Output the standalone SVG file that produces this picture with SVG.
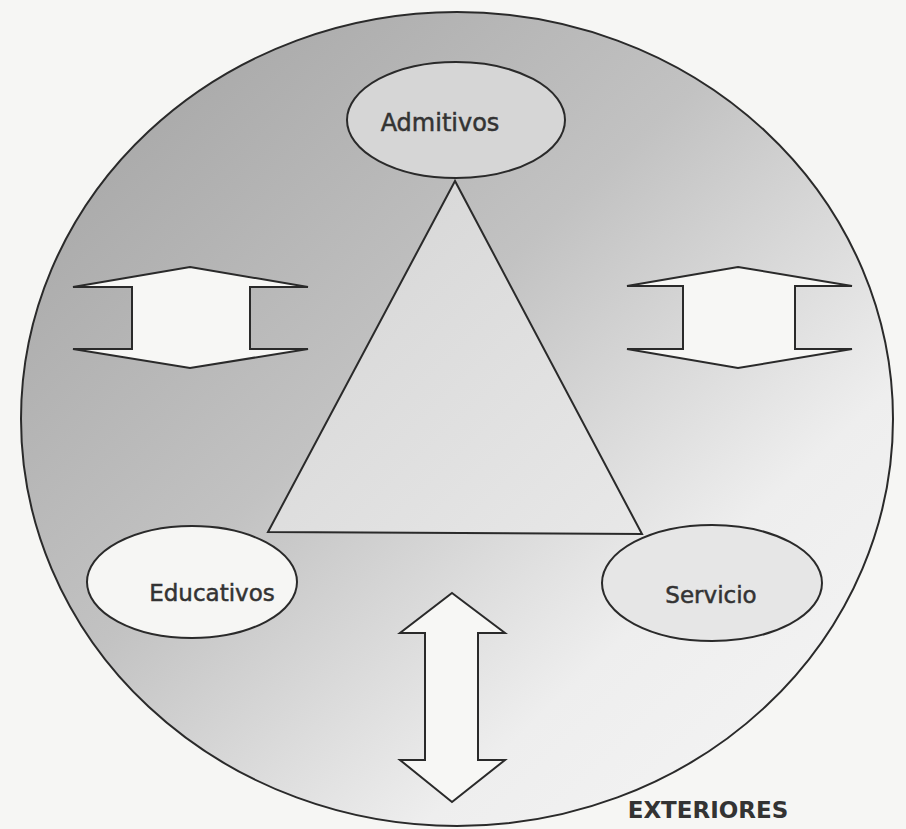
<svg xmlns="http://www.w3.org/2000/svg" width="906" height="829" viewBox="0 0 906 829">
  <defs>
    <linearGradient id="gCircle" x1="0" y1="0.1" x2="0.85" y2="0.95">
      <stop offset="0" stop-color="#a4a4a4"/>
      <stop offset="0.45" stop-color="#c2c2c2"/>
      <stop offset="0.8" stop-color="#eeeeee"/>
      <stop offset="1" stop-color="#f3f3f3"/>
    </linearGradient>
    <linearGradient id="gTri" x1="0" y1="0" x2="1" y2="1">
      <stop offset="0" stop-color="#d4d4d4"/>
      <stop offset="1" stop-color="#e8e8e8"/>
    </linearGradient>
  </defs>
  <style>
    .ln { stroke: #2a2a2a; stroke-width: 2; stroke-linejoin: miter; }
    .arrow { fill: #f7f7f5; stroke: #2a2a2a; stroke-width: 2; stroke-linejoin: miter; }
    .lbl { font-family: "DejaVu Sans", "Liberation Sans", sans-serif; fill: #333333; stroke: #333333; stroke-width: 0.5; text-anchor: middle; }
    .ext { font-family: "DejaVu Sans", "Liberation Sans", sans-serif; fill: #333333; font-weight: bold; text-anchor: middle; }
  </style>
  <rect x="0" y="0" width="906" height="829" fill="#f6f6f4"/>

  <g id="circle">
    <ellipse cx="457" cy="419" rx="436" ry="407" fill="url(#gCircle)" class="ln"/>
  </g>

  <g id="triangle">
    <polygon points="455,181 268,532 642,534" fill="url(#gTri)" class="ln"/>
  </g>

  <g id="connectors">
    <polygon id="arrow-left" class="arrow" points="190,267 308,287 250,287 250,349 308,349 190,368 73,349 132,349 132,287 73,287"/>
    <polygon id="arrow-right" class="arrow" points="738,267 852,286 795,286 795,349 852,349 738,368 627,349 683,349 683,286 627,286"/>
    <polygon id="arrow-bottom" class="arrow" points="452,593 505,633 478,633 478,760 505,760 452,802 400,760 425,760 425,633 400,633"/>
  </g>

  <g id="node-admitivos">
    <ellipse cx="456" cy="120" rx="109" ry="58" fill="#d6d6d6" class="ln"/>
    <text class="lbl" x="440" y="131" font-size="24">Admitivos</text>
  </g>

  <g id="node-educativos">
    <ellipse cx="192" cy="582" rx="105" ry="56" fill="#f6f6f4" class="ln"/>
    <text class="lbl" x="212" y="601" font-size="23">Educativos</text>
  </g>

  <g id="node-servicio">
    <ellipse cx="712" cy="583" rx="110" ry="58" fill="#e6e6e6" class="ln"/>
    <text class="lbl" x="711" y="603" font-size="23">Servicio</text>
  </g>

  <g id="label-exteriores">
    <text class="ext" x="708" y="818" font-size="23">EXTERIORES</text>
  </g>
</svg>
